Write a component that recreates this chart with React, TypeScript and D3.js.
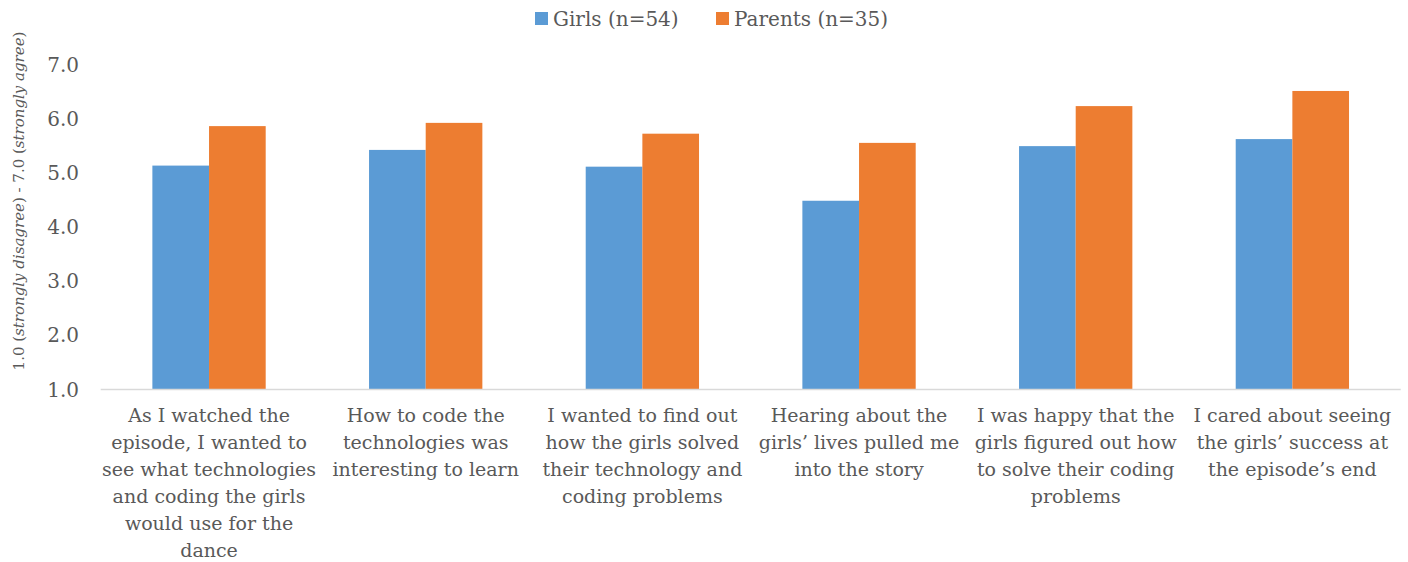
import React from "react";
import * as d3 from "d3";

const categories = [
  "As I watched the\nepisode, I wanted to\nsee what technologies\nand coding the girls\nwould use for the\ndance",
  "How to code the\ntechnologies was\ninteresting to learn",
  "I wanted to find out\nhow the girls solved\ntheir technology and\ncoding problems",
  "Hearing about the\ngirls’ lives pulled me\ninto the story",
  "I was happy that the\ngirls figured out how\nto solve their coding\nproblems",
  "I cared about seeing\nthe girls’ success at\nthe episode’s end",
];
const seriesNames = ["Girls (n=54)", "Parents (n=35)"];
const girls = [5.14, 5.43, 5.12, 4.49, 5.5, 5.63];
const parents = [5.87, 5.93, 5.73, 5.56, 6.24, 6.52];
const yTicks = [1, 2, 3, 4, 5, 6, 7];
const colors = ["#5B9BD5", "#ED7D31"];

const W = 1408;
const H = 562;
const FONT = "'DejaVu Serif', 'Liberation Serif', serif";
const TEXT = "#595959";

export default function App() {
  const left = 100.7, right = 1400.7, top = 65, bottom = 389.5;
  const x = d3.scaleBand<number>().domain(d3.range(categories.length)).range([left, right]).padding(0);
  const step = x.bandwidth();
  const inner = d3.scaleBand<number>().domain([0, 1]).range([step * 0.2385, step * 0.7615]).padding(0);
  const y = d3.scaleLinear().domain([1, 7]).range([bottom, top]);
  const series = [girls, parents];

  return (
    <svg width={W} height={H} style={{ position: "absolute", left: 0, top: 0, background: "#fff" }} fontFamily={FONT}>
      {/* legend */}
      <g>
        <rect x={535} y={12} width={13} height={13} fill={colors[0]} />
        <text x={553} y={26} fontSize={20} fill={TEXT}>{seriesNames[0]}</text>
        <rect x={716} y={12} width={13} height={13} fill={colors[1]} />
        <text x={734} y={26} fontSize={20} fill={TEXT}>{seriesNames[1]}</text>
      </g>
      {/* y ticks */}
      {yTicks.map((t) => (
        <text key={t} x={79} y={y(t)} dy="0.35em" textAnchor="end" fontSize={20} fill={TEXT}>
          {d3.format(".1f")(t)}
        </text>
      ))}
      {/* y title */}
      <text transform={`translate(24,${201}) rotate(-90)`} textAnchor="middle" fontSize={15} fill={TEXT}>
        <tspan>1.0 (</tspan>
        <tspan fontStyle="italic">strongly disagree</tspan>
        <tspan>) - 7.0 (</tspan>
        <tspan fontStyle="italic">strongly agree</tspan>
        <tspan>)</tspan>
      </text>
      {/* bars */}
      {categories.map((_, i) =>
        series.map((s, j) => (
          <rect
            key={`${i}-${j}`}
            x={(x(i) as number) + (inner(j) as number)}
            y={y(s[i])}
            width={inner.bandwidth()}
            height={y(1) - y(s[i])}
            fill={colors[j]}
          />
        ))
      )}
      {/* axis line */}
      <line x1={left} x2={right} y1={bottom} y2={bottom} stroke="#D9D9D9" strokeWidth={1.5} />
      {/* category labels */}
      {categories.map((c, i) => (
        <text key={i} x={(x(i) as number) + step / 2} y={422} textAnchor="middle" fontSize={19} fill={TEXT}>
          {c.split("\n").map((line, k) => (
            <tspan key={k} x={(x(i) as number) + step / 2} dy={k === 0 ? 0 : 27}>
              {line}
            </tspan>
          ))}
        </text>
      ))}
    </svg>
  );
}
